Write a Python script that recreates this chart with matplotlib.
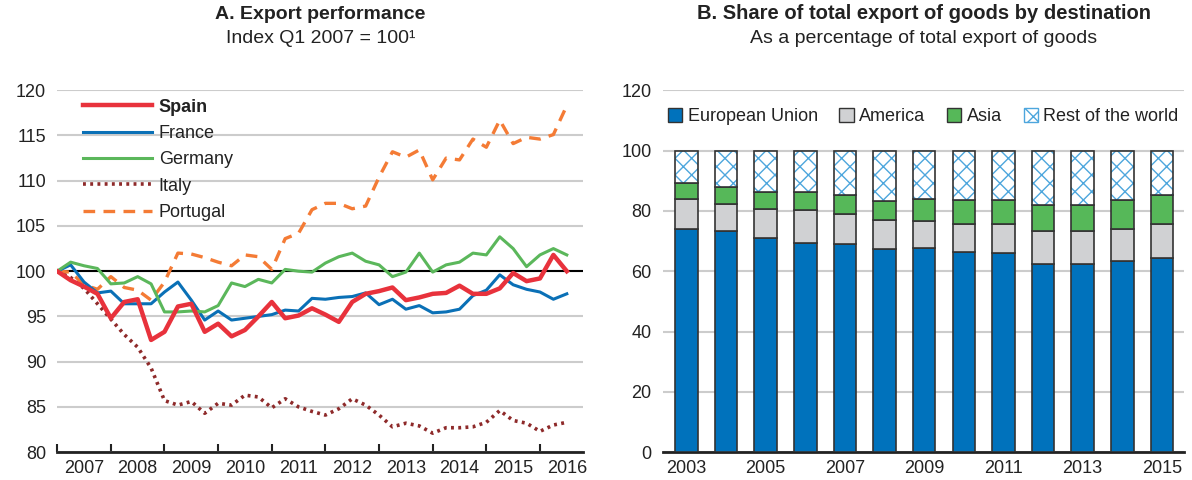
import numpy as np
import matplotlib
matplotlib.use("Agg")
import matplotlib.pyplot as plt

plt.rcParams['font.family'] = ['Liberation Sans', 'DejaVu Sans']
plt.rcParams['hatch.linewidth'] = 1.0

# Panel A: quarterly index, Q1 2007 = 100 (Q1 2007 .. Q3 2016)
spain = [100, 99.0, 98.3, 97.5, 94.8, 96.6, 96.9, 92.4, 93.3, 96.1, 96.4, 93.3, 94.2, 92.8,
         93.5, 95.0, 96.6, 94.8, 95.1, 95.9, 95.2, 94.4, 96.6, 97.5, 97.8, 98.2, 96.8, 97.1,
         97.5, 97.6, 98.4, 97.5, 97.5, 98.1, 99.8, 98.9, 99.2, 101.8, 100.0]
france = [100, 100.7, 98.8, 97.6, 97.8, 96.4, 96.4, 96.4, 97.7, 98.8, 96.8, 94.6, 95.6, 94.6,
          94.8, 95.0, 95.2, 95.7, 95.6, 97.0, 96.9, 97.1, 97.2, 97.6, 96.3, 96.9, 95.8, 96.2,
          95.4, 95.5, 95.8, 97.3, 97.9, 99.6, 98.5, 98.0, 97.7, 96.9, 97.5]
germany = [100, 101.0, 100.6, 100.3, 98.6, 98.7, 99.4, 98.6, 95.5, 95.5, 95.6, 95.5, 96.2, 98.7,
           98.3, 99.1, 98.7, 100.2, 100.0, 99.9, 100.9, 101.6, 102.0, 101.1, 100.7, 99.4, 99.9,
           102.0, 99.9, 100.7, 101.0, 102.0, 101.8, 103.8, 102.5, 100.5, 101.8, 102.5, 101.8]
italy = [100, 99.3, 98.1, 96.4, 94.7, 93.0, 91.6, 89.3, 85.7, 85.2, 85.6, 84.3, 85.4, 85.2,
         86.3, 86.1, 84.9, 85.9, 85.0, 84.5, 84.1, 84.8, 85.9, 85.2, 84.1, 82.8, 83.2, 82.9,
         82.1, 82.7, 82.7, 82.8, 83.3, 84.6, 83.5, 83.2, 82.3, 83.0, 83.3]
portugal = [100, 99.9, 98.5, 98.0, 99.4, 98.2, 97.9, 96.8, 98.8, 102.0, 101.9, 101.5, 101.0, 100.6,
            101.8, 101.6, 100.2, 103.6, 104.2, 106.8, 107.5, 107.5, 106.9, 107.2, 110.4, 113.2,
            112.6, 113.4, 110.1, 112.5, 112.3, 114.6, 113.7, 116.7, 114.1, 114.8, 114.6, 115.1, 118.3]
years_a = ['2007', '2008', '2009', '2010', '2011', '2012', '2013', '2014', '2015', '2016']

# Panel B: share of exports by destination (%)
years_b = ['2003', '2004', '2005', '2006', '2007', '2008', '2009', '2010', '2011', '2012', '2013', '2014', '2015']
eu = [74.1, 73.3, 71.0, 69.4, 68.9, 67.3, 67.7, 66.4, 65.9, 62.5, 62.5, 63.3, 64.5]
america = [9.7, 9.1, 9.7, 10.8, 10.2, 9.6, 9.1, 9.4, 9.7, 10.9, 10.8, 10.8, 11.3]
asia = [5.3, 5.5, 5.5, 5.9, 6.3, 6.4, 7.3, 7.7, 7.9, 8.5, 8.8, 9.4, 9.6]
rest = [10.9, 12.1, 13.8, 13.9, 14.6, 16.7, 15.9, 16.5, 16.5, 18.1, 17.9, 16.5, 14.6]

fig = plt.figure(figsize=(11.92, 4.8), dpi=100)
ax1 = fig.add_axes([0.048, 0.058, 0.441, 0.754])
ax2 = fig.add_axes([0.556, 0.058, 0.437, 0.754])

grid_col = '#CCCCCC'
txt_col = '#222222'

# ---- Panel A
x = np.arange(len(spain))
ax1.axhline(100, color='black', lw=1.5, zorder=2)
ax1.plot(x, spain, color='#E8323C', lw=3.2, label='Spain', zorder=5)
ax1.plot(x, france, color='#0A70B6', lw=2.2, label='France', zorder=4)
ax1.plot(x, germany, color='#5BB75B', lw=2.2, label='Germany', zorder=4)
ax1.plot(x, italy, color='#8E2A2A', lw=2.6, ls=(0, (0.8, 1.2)), label='Italy', zorder=3)
ax1.plot(x, portugal, color='#F47B35', lw=2.4, ls=(0, (3.5, 2.5)), label='Portugal', zorder=3)

ax1.set_ylim(80, 120)
ax1.set_xlim(0, 39.2)
ax1.set_yticks(range(80, 121, 5))
ax1.yaxis.grid(True, color=grid_col, lw=1.5)
ax1.set_axisbelow(True)
ax1.set_xticks(np.arange(0, 40, 4))
ax1.set_xticklabels([])
ax1.set_xticks(np.arange(2, 40, 4), minor=True)
ax1.set_xticklabels(years_a, minor=True)
ax1.tick_params(axis='x', which='major', direction='in', length=6, width=1.5, color=txt_col)
ax1.tick_params(axis='x', which='minor', length=0, pad=6)
ax1.tick_params(axis='y', length=0, pad=8)
ax1.tick_params(which='both', labelsize=13, labelcolor=txt_col)
for s in ['top', 'right', 'left']:
    ax1.spines[s].set_visible(False)
ax1.spines['bottom'].set_linewidth(2)
ax1.spines['bottom'].set_color(txt_col)

leg = ax1.legend(loc='upper left', bbox_to_anchor=(0.025, 1.012), frameon=False, fontsize=13,
                 handlelength=3.8, handletextpad=0.4, labelspacing=0.52, borderaxespad=0.3)
for t in leg.get_texts():
    t.set_color(txt_col)
leg.get_texts()[0].set_fontweight('bold')

fig.text(0.269, 0.952, 'A. Export performance', ha='center', va='bottom',
         fontsize=14, fontweight='bold', color=txt_col)
fig.text(0.269, 0.903, 'Index Q1 2007 = 100\u00b9', ha='center', va='bottom',
         fontsize=14, color=txt_col)

# ---- Panel B
xb = np.arange(len(years_b))
w = 0.57
ec = '#333333'
ax2.bar(xb, eu, w, color='#0072BC', edgecolor=ec, lw=1.2, label='European Union', zorder=3)
bottom = np.array(eu)
ax2.bar(xb, america, w, bottom=bottom, color='#D0D1D3', edgecolor=ec, lw=1.2, label='America', zorder=3)
bottom = bottom + np.array(america)
ax2.bar(xb, asia, w, bottom=bottom, color='#56B859', edgecolor=ec, lw=1.2, label='Asia', zorder=3)
bottom = bottom + np.array(asia)
ax2.bar(xb, rest, w, bottom=bottom, color='white', edgecolor='#4DA6DD', hatch='xx', lw=0,
        label='Rest of the world', zorder=3)
ax2.bar(xb, rest, w, bottom=bottom, color='none', edgecolor=ec, lw=1.2, zorder=4)

ax2.set_ylim(0, 120)
ax2.set_xlim(-0.6, 12.55)
ax2.set_yticks(range(0, 121, 20))
ax2.yaxis.grid(True, color=grid_col, lw=1.5)
ax2.set_axisbelow(True)
ax2.set_xticks(xb[::2])
ax2.set_xticklabels(years_b[::2])
ax2.tick_params(axis='x', length=0, pad=6)
ax2.tick_params(axis='y', length=0, pad=8)
ax2.tick_params(labelsize=13, labelcolor=txt_col)
for s in ['top', 'right', 'left']:
    ax2.spines[s].set_visible(False)
ax2.spines['bottom'].set_linewidth(2)
ax2.spines['bottom'].set_color(txt_col)

leg2 = ax2.legend(loc='upper center', bbox_to_anchor=(0.5, 0.995), ncol=4, frameon=False, fontsize=13,
                  handlelength=0.8, handleheight=0.8, handletextpad=0.3, columnspacing=1.2)
for t in leg2.get_texts():
    t.set_color(txt_col)
for h in leg2.legend_handles:
    h.set_edgecolor(ec)
    h.set_linewidth(1.0)
leg2.legend_handles[3].set_edgecolor('#4DA6DD')

fig.text(0.775, 0.952, 'B. Share of total export of goods by destination',
         ha='center', va='bottom', fontsize=14.5, fontweight='bold', color=txt_col)
fig.text(0.775, 0.903, 'As a percentage of total export of goods',
         ha='center', va='bottom', fontsize=14, color=txt_col)

fig.savefig('out.png', dpi=100)
